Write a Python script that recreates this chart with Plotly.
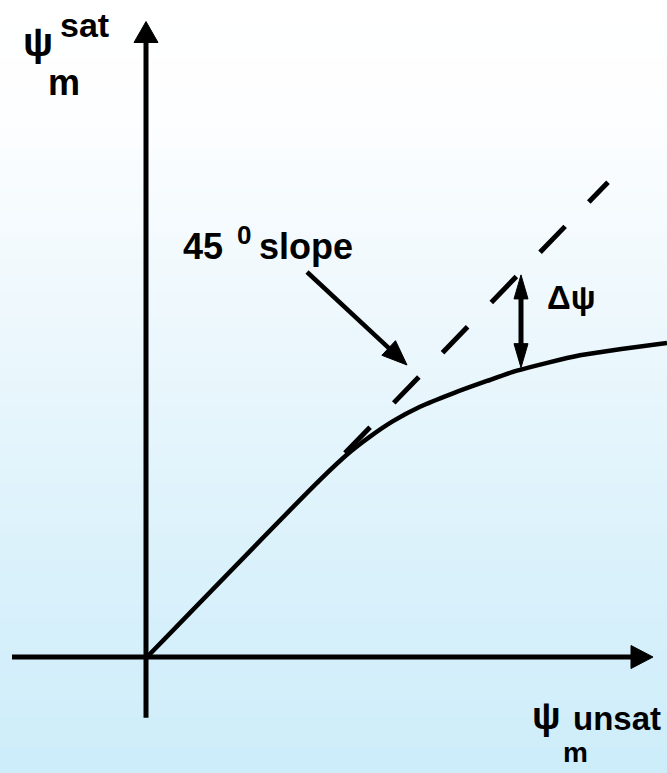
import numpy as np
import plotly.graph_objects as go

# Schematic data: origin at (0, 0); the reference line is the 45-degree line y = x
curve_x = [0, 173, 203, 223, 246, 273, 306, 340, 370, 433, 520]
curve_y = [0, 172, 199, 214, 229, 243, 256, 268, 278, 293, 305]
ref_x = [198, 461]          # extent of the dashed 45-degree line
ref_y = list(ref_x)
delta_x = 374               # where the gap between the two lines is marked
x_axis_span = [-135, 506]
y_axis_span = [-59, 617]

# Figure geometry
W, H = 667, 773
X_RANGE = [-147, 520]
Y_RANGE = [-112.6, 637.9]
SX = W / (X_RANGE[1] - X_RANGE[0])
SY = H / (Y_RANGE[1] - Y_RANGE[0])


def to_px(x, y):
    return (x - X_RANGE[0]) * SX, (Y_RANGE[1] - y) * SY


def to_data(px, py):
    return px / SX + X_RANGE[0], Y_RANGE[1] - py / SY


fig = go.Figure()


def arrow(x0, y0, x1, y1, width, head_len, head_w, both=False):
    """Line from (x0,y0) to (x1,y1) in data units with a filled head (pixel sizes)."""
    p0 = np.array(to_px(x0, y0))
    p1 = np.array(to_px(x1, y1))
    u = (p1 - p0) / np.linalg.norm(p1 - p0)
    n = np.array([-u[1], u[0]])
    a = p0 + u * head_len * 0.8 if both else p0
    b = p1 - u * head_len * 0.8
    la, lb = to_data(*a), to_data(*b)
    fig.add_trace(go.Scatter(x=[la[0], lb[0]], y=[la[1], lb[1]], mode="lines",
                             line=dict(color="black", width=width),
                             hoverinfo="skip", showlegend=False))
    heads = [(p1, u)] + ([(p0, -u)] if both else [])
    for tip, d in heads:
        base = tip - d * head_len
        pts = [tip, base + n * head_w / 2, base - n * head_w / 2, tip]
        xs, ys = zip(*[to_data(*p) for p in pts])
        fig.add_trace(go.Scatter(x=xs, y=ys, mode="lines", fill="toself",
                                 fillcolor="black", line=dict(color="black", width=1),
                                 hoverinfo="skip", showlegend=False))


# Axes with arrowheads
arrow(x_axis_span[0], 0, x_axis_span[1], 0, 5, 22, 23)
arrow(-1, y_axis_span[0], -1, y_axis_span[1], 5, 21, 24)

# Dashed 45-degree line
fig.add_trace(go.Scatter(x=ref_x, y=ref_y, mode="lines",
                         line=dict(color="black", width=5, dash="36px,34px"),
                         hoverinfo="skip", showlegend=False))

# Measured curve
fig.add_trace(go.Scatter(x=curve_x, y=curve_y, mode="lines",
                         line=dict(color="black", width=4.5, shape="spline", smoothing=0.6),
                         hoverinfo="skip", showlegend=False))

# Gap between the 45-degree line and the curve
gap_top = delta_x - 3
gap_bottom = float(np.interp(delta_x, curve_x, curve_y)) + 2
arrow(delta_x, gap_bottom, delta_x, gap_top, 5, 24, 14, both=True)

# Pointer to the 45-degree line
sx0, sy0 = to_data(307, 272)
sx1, sy1 = to_data(407, 365)
arrow(sx0, sy0, sx1, sy1, 4.5, 25, 20)

# Background gradient: white at the top, pale blue at the bottom
stops = [(0.0, (255, 255, 255)), (0.15, (253, 254, 255)), (0.35, (241, 249, 253)),
         (0.55, (229, 245, 252)), (0.75, (217, 241, 251)), (1.0, (205, 237, 250))]
shapes = []
n_bands = 120
for i in range(n_bands):
    t = (i + 0.5) / n_bands
    for (t0, c0), (t1, c1) in zip(stops[:-1], stops[1:]):
        if t0 <= t <= t1:
            f = (t - t0) / (t1 - t0)
            c = tuple(int(round(c0[k] + (c1[k] - c0[k]) * f)) for k in range(3))
            break
    shapes.append(dict(type="rect", xref="paper", yref="paper", layer="below",
                       x0=0, x1=1, y0=1 - (i + 1) / n_bands - 0.002, y1=1 - i / n_bands,
                       line=dict(width=0), fillcolor="rgb(%d,%d,%d)" % c))

FONT = "Liberation Sans, Arial, sans-serif"


def label(text, px, py, size, yanchor="middle"):
    x, y = to_data(px, py)
    return dict(x=x, y=y, xref="x", yref="y", text="<b>%s</b>" % text, showarrow=False,
                xanchor="center", yanchor=yanchor,
                font=dict(family=FONT, size=size, color="black"))


annotations = [
    label("ψ", 38, 42, 40),
    label("sat", 84, 25, 34),
    label("m", 64, 82, 36),
    label("45", 203, 246, 36),
    label("0", 244, 235, 26),
    label("slope", 306, 246, 36),
    label("Δψ", 571, 297, 33),
    label("ψ", 546, 716, 38),
    label("unsat", 617, 718, 33),
    label("m", 575, 770, 28, yanchor="bottom"),
]

fig.update_layout(
    width=W, height=H,
    margin=dict(l=0, r=0, t=0, b=0),
    paper_bgcolor="white", plot_bgcolor="rgba(0,0,0,0)",
    xaxis=dict(range=X_RANGE, visible=False, fixedrange=True),
    yaxis=dict(range=Y_RANGE, visible=False, fixedrange=True),
    shapes=shapes, annotations=annotations, showlegend=False,
)

fig.write_html("out.html", config={"displayModeBar": False})
